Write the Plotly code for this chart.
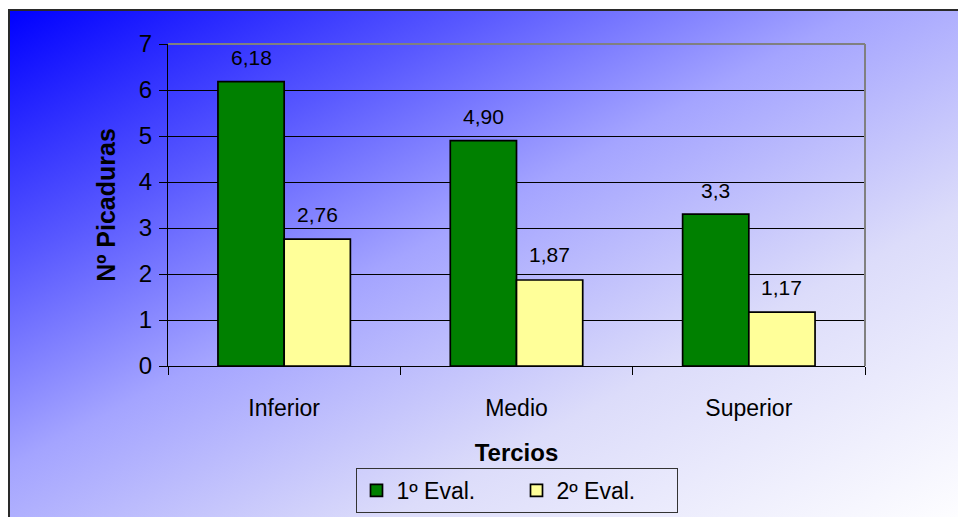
import base64
import plotly.graph_objects as go

categories = ["Inferior", "Medio", "Superior"]
eval1 = [6.18, 4.90, 3.3]
eval2 = [2.76, 1.87, 1.17]
labels1 = ["6,18", "4,90", "3,3"]
labels2 = ["2,76", "1,87", "1,17"]
series_names = ["1º Eval.", "2º Eval."]
y_ticks = [0, 1, 2, 3, 4, 5, 6, 7]

W, H = 958, 517
L, R, T, B = 168, 865, 44, 366  # plot area in pixels
pw, ph = R - L, B - T


def px(x):
    return (x - L) / pw


def py(y):
    return (B - y) / ph


GW, GH = W - 10, H - 10
svg = (
    f'<svg xmlns="http://www.w3.org/2000/svg" width="{GW}" height="{GH}" viewBox="0 0 {GW} {GH}" preserveAspectRatio="none">'
    '<defs><linearGradient id="g" x1="0" y1="0" x2="1" y2="1">'
    '<stop offset="0" stop-color="#0000FF"/>'
    '<stop offset="0.25" stop-color="#5858FF"/>'
    '<stop offset="0.45" stop-color="#A4A4FF"/>'
    '<stop offset="0.7" stop-color="#DCDCFA"/>'
    '<stop offset="1" stop-color="#FDFDFF"/>'
    '</linearGradient></defs>'
    f'<rect x="0" y="0" width="{GW}" height="{GH}" fill="url(#g)"/></svg>'
)
svg_uri = "data:image/svg+xml;base64," + base64.b64encode(svg.encode()).decode()

FONT = "Liberation Sans, Arial, sans-serif"

fig = go.Figure()
fig.add_trace(go.Bar(
    x=categories, y=eval1, name=series_names[0],
    marker=dict(color="#008000", line=dict(color="black", width=1.7)),
))
fig.add_trace(go.Bar(
    x=categories, y=eval2, name=series_names[1],
    marker=dict(color="#FFFF99", line=dict(color="black", width=1.7)),
))

half = 33
for cat, v, t in zip(categories, eval1, labels1):
    fig.add_annotation(x=cat, y=v, text=t, showarrow=False, xshift=-half, yshift=24,
                       yanchor="middle", font=dict(size=21, color="black", family=FONT))
for cat, v, t in zip(categories, eval2, labels2):
    fig.add_annotation(x=cat, y=v, text=t, showarrow=False, xshift=half, yshift=25,
                       yanchor="middle", font=dict(size=21, color="black", family=FONT))

fig.update_layout(
    width=W, height=H,
    margin=dict(l=L, r=W - R, t=T, b=H - B, autoexpand=False),
    paper_bgcolor="white",
    plot_bgcolor="rgba(0,0,0,0)",
    barmode="group", bargap=0.43, bargroupgap=0,
    font=dict(family=FONT, color="black"),
    showlegend=True,
    legend=dict(
        orientation="h", x=0.5, xanchor="center", y=py(468), yanchor="top",
        bgcolor="rgba(0,0,0,0)", bordercolor="#333333", borderwidth=1,
        font=dict(size=23, family=FONT), itemwidth=30, tracegroupgap=0,
        entrywidth=115, entrywidthmode="pixels",
    ),
    xaxis=dict(
        showline=True, linecolor="black", linewidth=1, automargin=False,
        ticks="outside", tickson="boundaries", ticklen=8, tickcolor="black",
        tickfont=dict(size=23, family=FONT), ticklabelstandoff=21,
        showgrid=False,
        title=dict(text="<b>Tercios</b>", font=dict(size=24, family=FONT), standoff=24),
    ),
    yaxis=dict(
        range=[0, 7], tickvals=y_ticks, showline=True, linecolor="black", linewidth=1,
        automargin=False,
        ticks="outside", ticklen=8, tickcolor="black",
        tickfont=dict(size=24, family=FONT), ticklabelstandoff=2,
        showgrid=True, gridcolor="black", gridwidth=1, zeroline=False,
        title=dict(text="<b>Nº Picaduras</b>", font=dict(size=25, family=FONT), standoff=16),
    ),
    images=[dict(
        source=svg_uri, xref="paper", yref="paper",
        x=px(10), y=py(10), sizex=GW / pw, sizey=GH / ph,
        xanchor="left", yanchor="top", sizing="stretch", layer="below",
    )],
    shapes=[
        dict(type="line", xref="paper", yref="paper", x0=0, x1=1, y0=1, y1=1,
             line=dict(color="#808080", width=2)),
        dict(type="line", xref="paper", yref="paper", x0=1, x1=1, y0=0, y1=1,
             line=dict(color="#808080", width=2)),
        dict(type="line", xref="paper", yref="paper", x0=px(9), x1=px(9), y0=py(9), y1=py(530),
             line=dict(color="#2a2a2a", width=2)),
        dict(type="line", xref="paper", yref="paper", x0=px(8), x1=px(970), y0=py(10), y1=py(10),
             line=dict(color="#2a2a2a", width=2)),
    ],
)

fig.write_html(
    "out.html",
    config={"displayModeBar": False},
    post_script="document.body.style.margin='0';document.body.style.overflow='hidden';",
)
